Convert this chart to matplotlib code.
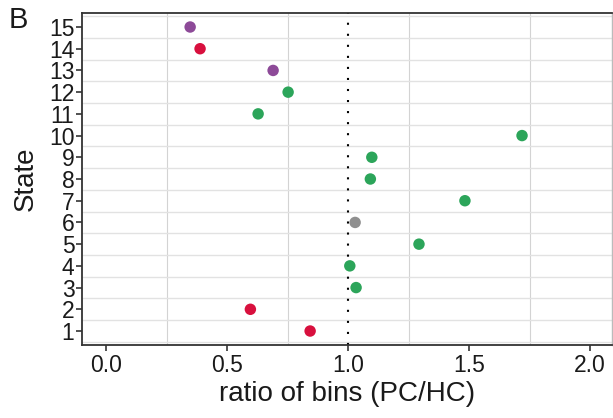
import numpy as np
import matplotlib
matplotlib.use("Agg")
import matplotlib.pyplot as plt

plt.rcParams["font.family"] = ["Liberation Sans", "DejaVu Sans"]

states = [15, 14, 13, 12, 11, 10, 9, 8, 7, 6, 5, 4, 3, 2, 1]
ratios = [0.347, 0.388, 0.690, 0.752, 0.628, 1.719, 1.098, 1.092, 1.483, 1.029, 1.293, 1.007, 1.033, 0.596, 0.843]
groups = ["purple", "red", "purple", "green", "green", "green", "green", "green",
          "green", "gray", "green", "green", "green", "red", "red"]

group_colors = {
    "purple": "#8d4a98",
    "red": "#d8103e",
    "green": "#2ca55a",
    "gray": "#8f8f8f",
}

x_ticks = [0.0, 0.5, 1.0, 1.5, 2.0]
x_grid = [0.25, 0.75, 1.25, 1.75]
y_grid = [s + 0.5 for s in range(0, 16)]

fig = plt.figure(figsize=(6.13, 4.18), dpi=100)
ax = fig.add_axes([0.1338, 0.1746, 0.998 - 0.1338, 0.9689 - 0.1746])

for g in x_grid:
    ax.axvline(g, color="#d3d3d3", lw=0.8, zorder=0)
for g in y_grid:
    ax.axhline(g, color="#e2e2e2", lw=1.0, zorder=0)

ax.axvline(1.0, color="black", lw=1.5, linestyle=(0, (1, 4.3)), zorder=1)

cols = [group_colors[g] for g in groups]
ax.scatter(ratios, states, s=68, c=cols, edgecolors="none", zorder=3)

ax.set_xlim(-0.1, 2.09)
ax.set_ylim(0.355, 15.645)
ax.set_xticks(x_ticks)
ax.set_xticklabels([f"{t:.1f}" for t in x_ticks])
ax.set_yticks(states)
ax.set_yticklabels([str(s) for s in states])

for side in ["left", "top", "bottom"]:
    ax.spines[side].set_color("#333333")
    ax.spines[side].set_linewidth(1.3)
ax.spines["right"].set_color("#bbbbbb")
ax.spines["right"].set_linewidth(1.0)

ax.tick_params(axis="both", direction="out", length=4.5, width=1.2, color="#333333",
               labelsize=16.5, labelcolor="#1a1a1a", pad=2)
ax.tick_params(axis="y", pad=1)

ax.set_xlabel("ratio of bins (PC/HC)", fontsize=20, color="#1a1a1a", labelpad=3)
ax.set_ylabel("State", fontsize=20, color="#1a1a1a", labelpad=7)

fig.text(0.014, 0.985, "B", fontsize=21, va="top", ha="left", color="#1a1a1a")

fig.savefig("out.png", dpi=100)
